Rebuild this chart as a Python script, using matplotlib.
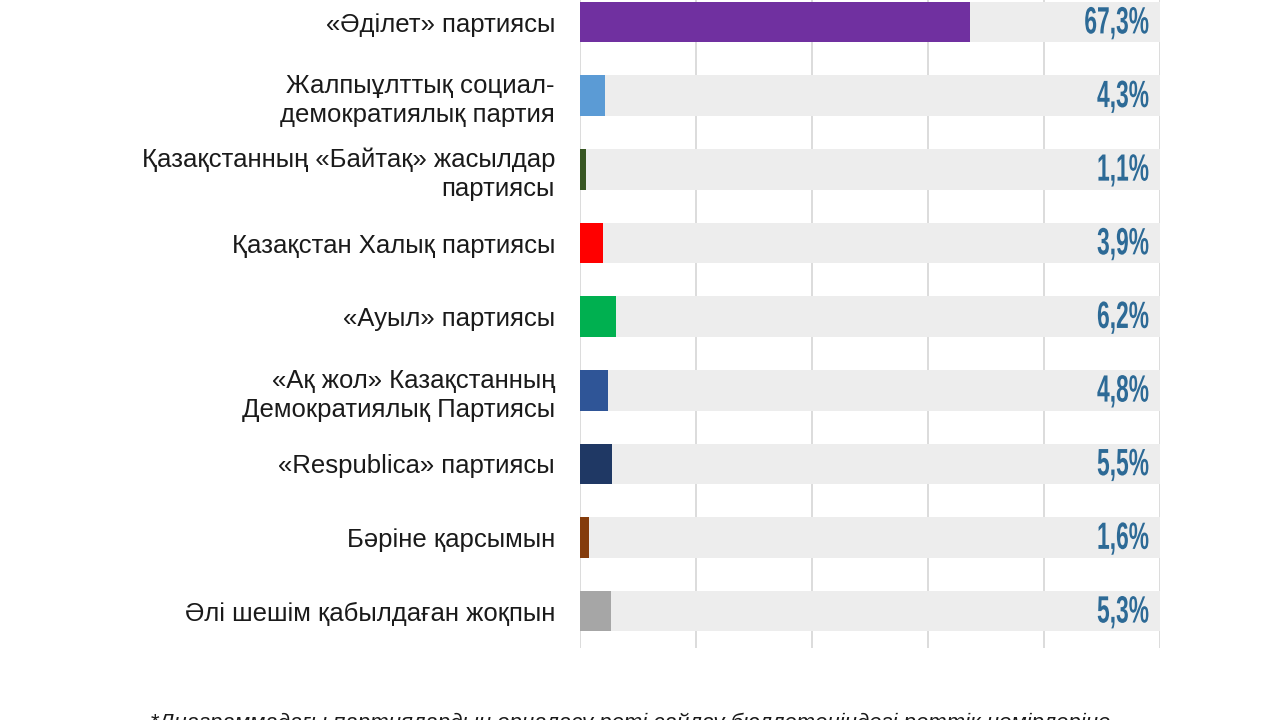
import matplotlib.pyplot as plt
from matplotlib.textpath import TextPath
from matplotlib.patches import PathPatch
from matplotlib.font_manager import FontProperties
from matplotlib.transforms import Affine2D

parties = [
    "«Әділет» партиясы",
    "Жалпыұлттық социал-\nдемократиялық партия",
    "Қазақстанның «Байтақ» жасылдар\nпартиясы",
    "Қазақстан Халық партиясы",
    "«Ауыл» партиясы",
    "«Ақ жол» Казақстанның\nДемократиялық Партиясы",
    "«Respublica» партиясы",
    "Бәріне қарсымын",
    "Әлі шешім қабылдаған жоқпын",
]
values = [67.3, 4.3, 1.1, 3.9, 6.2, 4.8, 5.5, 1.6, 5.3]
value_labels = ["67,3%", "4,3%", "1,1%", "3,9%", "6,2%", "4,8%", "5,5%", "1,6%", "5,3%"]
colors = ["#7030a0", "#5b9bd5", "#375623", "#ff0000", "#00b050",
          "#2f5597", "#1f3864", "#843c0c", "#a6a6a6"]
footnote = "*Диаграммадағы партиялардың орналасу реті сайлау бюллетеніндегі реттік нөмірлеріне"

plt.rcParams['font.family'] = ['Liberation Sans', 'DejaVu Sans']

fig = plt.figure(figsize=(12.8, 7.2), dpi=100)
ax = fig.add_axes([580 / 1280, 0.1, 580 / 1280, 0.9])

y = list(range(len(parties)))
ax.barh(y, [100] * len(parties), height=0.55, color="#ededed", zorder=2)
ax.barh(y, values, height=0.55, color=colors, zorder=3)

ax.set_xlim(0, 100)
ax.set_ylim(8.5, -0.3)
ax.set_xticks([0, 20, 40, 60, 80, 100])
ax.xaxis.grid(True, color="#d9d9d9", linewidth=1.3, zorder=0)
ax.set_axisbelow(True)
ax.tick_params(axis="x", length=0, labelbottom=False)
ax.set_yticks(y)
ax.set_yticklabels(parties, fontsize=18.5, color="#1a1a1a", ha="right",
                   multialignment="right", linespacing=1.25)
ax.tick_params(axis="y", length=0, pad=18)
for s in ax.spines.values():
    s.set_visible(False)

# condensed bold numbers: squeeze a text path horizontally
fp = FontProperties(family="Liberation Sans", weight="bold")
for i, lab in enumerate(value_labels):
    tp = TextPath((0, 0), lab, size=38, prop=fp)
    ext = tp.get_extents()
    xd, yd = ax.transData.transform((98, i))
    tr = Affine2D().translate(-ext.x1, -(ext.y0 + ext.y1) / 2).scale(0.6, 1.0).translate(xd, yd - 1)
    p = PathPatch(tr.transform_path(tp), facecolor="#2d6a96", edgecolor="none", zorder=4)
    p.set_transform(Affine2D())
    fig.add_artist(p)

fig.text(0.492, -0.005, footnote, ha="center", va="center", fontsize=16,
         style="italic", color="#1a1a1a")

fig.savefig("out.png", dpi=100)
